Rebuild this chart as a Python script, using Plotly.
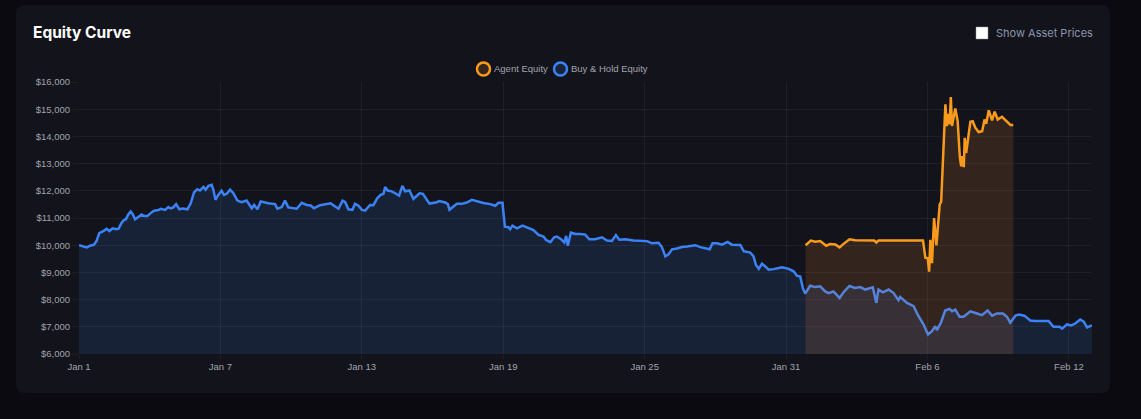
import pandas as pd
import plotly.graph_objects as go

W, H = 1141, 419
START = pd.Timestamp('2025-01-01')

# days since Jan 1, dollars
hold_days = [0, .18, .33, .47, .64, .75, .86, 1.03, 1.17, 1.29, 1.43, 1.57, 1.68, 1.81, 1.91, 1.99, 2.08, 2.19, 2.28, 2.38,
             2.52, 2.66, 2.76, 2.90, 3.04, 3.18, 3.37, 3.47, 3.65, 3.79, 3.89, 4.00, 4.12, 4.26, 4.40, 4.60, 4.74, 4.88, 5.02, 5.13,
             5.28, 5.37, 5.49, 5.63, 5.70, 5.79, 5.91, 6.05, 6.15, 6.27, 6.41, 6.55, 6.72, 6.90, 7.11, 7.33, 7.43, 7.57, 7.71, 7.85,
             8.03, 8.32, 8.42, 8.60, 8.74, 8.88, 9.24, 9.45, 9.66, 9.83, 9.97, 10.23, 10.51, 10.68, 10.82, 11.01, 11.18, 11.29, 11.43, 11.60,
             11.71, 11.86, 12.00, 12.14, 12.35, 12.49, 12.66, 12.80, 12.92, 12.99, 13.09, 13.27, 13.45, 13.58, 13.72, 13.84, 14.02, 14.19, 14.30, 14.45,
             14.59, 14.73, 14.87, 15.18, 15.28, 15.54, 15.65, 15.72, 15.89, 16.03, 16.24, 16.45, 16.67, 16.88, 17.16, 17.45, 17.66, 17.80, 17.97, 18.01,
             18.07, 18.22, 18.29, 18.39, 18.58, 18.82, 19.03, 19.28, 19.50, 19.71, 19.82, 20.0, 20.16, 20.28, 20.45, 20.59, 20.67, 20.74, 20.87, 21.06,
             21.27, 21.48, 21.65, 21.90, 22.19, 22.40, 22.61, 22.78, 22.92, 23.18, 23.53, 23.81, 24.10, 24.31, 24.59, 24.73, 24.88, 25.02, 25.16, 25.37,
             25.58, 25.80, 26.15, 26.36, 26.57, 26.76, 26.88, 27.07, 27.28, 27.52, 27.70, 28.06, 28.20, 28.48, 28.62, 28.72, 28.84, 28.98, 29.12, 29.26,
             29.47, 29.83, 30.11, 30.32, 30.46, 30.6, 30.71, 30.81, 31.02, 31.24, 31.45, 31.66, 31.80, 32.01, 32.27, 32.44, 32.69, 32.93, 33.15, 33.36,
             33.68, 33.83, 33.92, 34.11, 34.35, 34.56, 34.77, 34.84, 35.13, 35.41, 35.62, 35.83, 36.02, 36.19, 36.33, 36.40, 36.57, 36.75, 36.94, 37.04,
             37.18, 37.36, 37.53, 37.82, 38.10, 38.31, 38.55, 38.74, 38.95, 39.20, 39.37, 39.51, 39.73, 39.87, 40.11, 40.36, 40.57, 40.82, 41.14, 41.35,
             41.61, 41.71, 41.92, 42.09, 42.27, 42.48, 42.63, 42.77, 42.98]
hold_equity = [10000, 9970, 9920, 9980, 10020, 10170, 10440, 10520, 10600, 10520, 10620, 10590, 10610, 10830, 10930, 10950, 11110, 11240, 11140, 10950,
               11030, 11130, 11070, 11070, 11180, 11270, 11290, 11340, 11300, 11400, 11350, 11390, 11510, 11320, 11350, 11320, 11540, 11940, 12060, 12010,
               12140, 12040, 12180, 12220, 12040, 11670, 11850, 12000, 11850, 11890, 12040, 11910, 11640, 11580, 11640, 11360, 11480, 11320, 11610, 11580,
               11540, 11510, 11340, 11400, 11640, 11390, 11340, 11560, 11480, 11460, 11360, 11470, 11500, 11540, 11450, 11340, 11640, 11590, 11320, 11300,
               11520, 11450, 11300, 11270, 11480, 11470, 11730, 11850, 11890, 12140, 12010, 11980, 11890, 11820, 12180, 11980, 12010, 11700, 11790, 11910,
               11890, 11730, 11530, 11580, 11620, 11570, 11510, 11300, 11420, 11520, 11520, 11570, 11670, 11610, 11550, 11510, 11450, 11560, 11560, 11180,
               10680, 10660, 10590, 10720, 10620, 10720, 10660, 10560, 10380, 10320, 10190, 10110, 10290, 10320, 10220, 10100, 10340, 9980, 10460, 10410,
               10410, 10390, 10220, 10220, 10290, 10170, 10160, 10370, 10200, 10220, 10170, 10150, 10150, 10070, 10090, 9930, 9590, 9670, 9850, 9880,
               9930, 9950, 10000, 9930, 9890, 9850, 10070, 10070, 10020, 10120, 10020, 10010, 9780, 9730, 9590, 9280, 9130, 9320, 9220, 9100,
               9120, 9190, 9130, 9040, 8880, 8850, 8430, 8220, 8510, 8460, 8490, 8300, 8240, 8300, 8060, 8270, 8500, 8430, 8460, 8370,
               8450, 7880, 8370, 8270, 8370, 8240, 7980, 8100, 7880, 7760, 7390, 7090, 6720, 6840, 7020, 6880, 7150, 7600, 7660, 7570,
               7630, 7370, 7370, 7570, 7490, 7430, 7600, 7410, 7490, 7490, 7370, 7150, 7410, 7450, 7410, 7230, 7210, 7210, 7210, 7000,
               7000, 6930, 7090, 7050, 7120, 7270, 7190, 6980, 7050]

agent_days = [30.83, 31.05, 31.24, 31.45, 31.70, 31.87, 32.09, 32.27, 32.44, 32.69, 32.93, 33.43, 33.74, 33.83, 33.92, 34.85, 35.81, 35.91, 36.01, 36.07,
              36.12, 36.19, 36.28, 36.38, 36.52, 36.58, 36.66, 36.76, 36.82, 36.87, 36.94, 36.99, 37.04, 37.18, 37.28, 37.37, 37.43, 37.48, 37.54, 37.58,
              37.64, 37.75, 37.82, 37.92, 38.03, 38.17, 38.32, 38.42, 38.49, 38.60, 38.74, 38.85, 38.98, 39.16, 39.35, 39.52, 39.64]
agent_equity = [10000, 10170, 10130, 10150, 9980, 10040, 10030, 9920, 10050, 10220, 10180, 10170, 10170, 10100, 10170, 10170, 10170, 9540, 9520, 9030,
                10200, 9340, 11000, 9990, 11510, 11590, 13030, 15180, 14380, 14830, 14440, 15450, 14380, 15030, 14560, 13270, 12900, 13270, 12870, 13950,
                13390, 14010, 14540, 14560, 14320, 14160, 14190, 14620, 14460, 14960, 14590, 14910, 14620, 14720, 14560, 14420, 14420]

x_tick_days = [0, 6, 12, 18, 24, 30, 36, 42]
x_tick_labels = ['Jan 1', 'Jan 7', 'Jan 13', 'Jan 19', 'Jan 25', 'Jan 31', 'Feb 6', 'Feb 12']
y_ticks = list(range(6000, 16001, 1000))


def to_date(days):
    return START + pd.to_timedelta(days, unit='D')


def px(x):
    return x / W


def py(y):
    return 1 - y / H


def card_path(x0, y0, x1, y1, r):
    # rounded rectangle, paper coords
    return (f'M {px(x0 + r)} {py(y0)} L {px(x1 - r)} {py(y0)} Q {px(x1)} {py(y0)} {px(x1)} {py(y0 + r)} '
            f'L {px(x1)} {py(y1 - r)} Q {px(x1)} {py(y1)} {px(x1 - r)} {py(y1)} '
            f'L {px(x0 + r)} {py(y1)} Q {px(x0)} {py(y1)} {px(x0)} {py(y1 - r)} '
            f'L {px(x0)} {py(y0 + r)} Q {px(x0)} {py(y0)} {px(x0 + r)} {py(y0)} Z')


fig = go.Figure()
fig.add_trace(go.Scatter(
    x=to_date(hold_days), y=hold_equity, name='Buy & Hold Equity', mode='lines',
    line=dict(color='#3b82f6', width=2.5), fill='tozeroy', fillcolor='rgba(59,130,246,0.13)'))
fig.add_trace(go.Scatter(
    x=to_date(agent_days), y=agent_equity, name='Agent Equity', mode='lines',
    line=dict(color='#f99a1c', width=2.5), fill='tozeroy', fillcolor='rgba(245,135,50,0.14)'))

grid = 'rgba(255,255,255,0.055)'
tick_font = dict(family='Liberation Sans', size=9.5, color='#a0a3ad')
fig.update_xaxes(
    domain=[px(79), px(1092)], range=[to_date(0), to_date(42.98)],
    tickvals=to_date(x_tick_days), ticktext=x_tick_labels, tickfont=tick_font,
    showgrid=True, gridcolor=grid, gridwidth=1, zeroline=False, showline=False,
    ticks='outside', ticklen=4, tickcolor=grid, automargin=False)
fig.update_yaxes(
    domain=[py(354), py(82)], range=[6000, 16000],
    tickvals=y_ticks, ticktext=[f'${v:,}' for v in y_ticks], tickfont=tick_font,
    showgrid=True, gridcolor=grid, gridwidth=1, zeroline=False, showline=False,
    ticks='outside', ticklen=6, tickcolor=grid, automargin=False)

shapes = [
    dict(type='path', path=card_path(16, 5, 1110, 393, 9), xref='paper', yref='paper',
         fillcolor='#13141b', line_width=0, layer='below'),
    # checkbox
    dict(type='rect', xref='paper', yref='paper', x0=px(976), x1=px(988), y0=py(39), y1=py(27),
         fillcolor='white', line=dict(color='#8f939e', width=0.5)),
    # legend rings
    dict(type='circle', xref='paper', yref='paper', x0=px(477), x1=px(490), y0=py(75.5), y1=py(62.5),
         fillcolor='rgba(245,135,50,0.15)', line=dict(color='#f99a1c', width=2.5)),
    dict(type='circle', xref='paper', yref='paper', x0=px(554), x1=px(567), y0=py(75.5), y1=py(62.5),
         fillcolor='rgba(59,130,246,0.15)', line=dict(color='#3b82f6', width=2.5)),
]


def label(text, x, y, size, color, family='Liberation Sans', **kw):
    return dict(text=text, x=px(x), y=py(y), xref='paper', yref='paper', xanchor='left', yanchor='middle',
                showarrow=False, font=dict(family=family, size=size, color=color), borderpad=0, **kw)


annotations = [
    label('<b>Equity Curve</b>', 32, 32.5, 15.5, '#ffffff', family='Inter'),
    label('Show Asset Prices', 994.5, 33, 11, '#8a95aa', family='Inter'),
    label('Agent Equity', 493, 68.5, 9.5, '#a0a3ad'),
    label('Buy & Hold Equity', 570, 68.5, 9.5, '#a0a3ad'),
]

fig.update_layout(
    width=W, height=H, margin=dict(l=0, r=0, t=0, b=0, pad=0),
    paper_bgcolor='#0a0a10', plot_bgcolor='rgba(0,0,0,0)',
    showlegend=False, hovermode='x', shapes=shapes, annotations=annotations)

fig.write_html('out.html', config={'displayModeBar': False},
               post_script="document.body.style.margin='0';document.documentElement.style.overflow='hidden';")
